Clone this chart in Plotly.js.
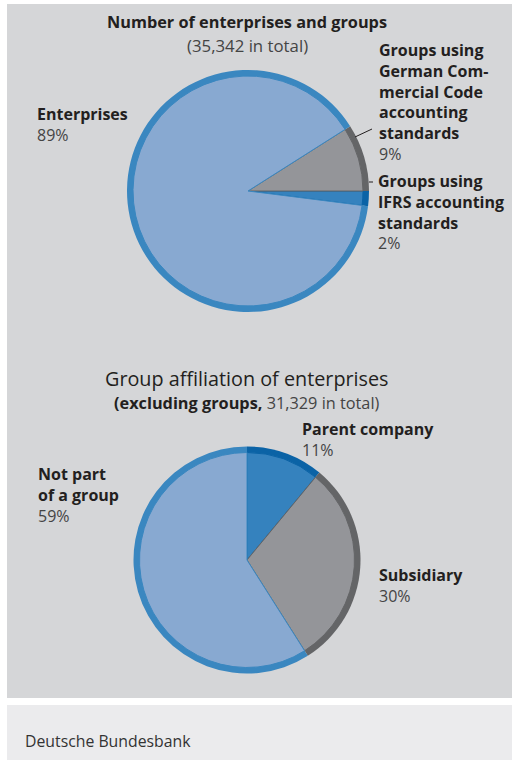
<!DOCTYPE html>
<html>
<head>
<meta charset="utf-8">
<script src="https://cdn.plot.ly/plotly-3.0.1.min.js"></script>
<style>html,body{margin:0;padding:0;background:#fff;}#chart{width:512px;height:760px;}</style>
</head>
<body>
<div id="chart"></div>
<script>
// ---- data ----
const topTitle = 'Number of enterprises and groups';
const topSubtitle = '(35,342 in total)';
const topCategories = ['Groups using IFRS accounting standards', 'Groups using German Commercial Code accounting standards', 'Enterprises'];
const topLabelText = ['Groups using<br>IFRS accounting<br>standards', 'Groups using<br>German Com-<br>mercial Code<br>accounting<br>standards', 'Enterprises'];
const topValues = [2, 9, 89];

const bottomTitle = 'Group affiliation of enterprises';
const bottomSubtitleBold = '(excluding groups,';
const bottomSubtitleRest = '31,329 in total)';
const bottomCategories = ['Parent company', 'Subsidiary', 'Not part of a group'];
const bottomLabelText = ['Parent company', 'Subsidiary', 'Not part<br>of a group'];
const bottomValues = [11, 30, 59];

const sourceText = 'Deutsche Bundesbank';

// ---- styles ----
const W = 512, H = 760;
const FONT = 'Open Sans, Noto Sans, sans-serif';
const topFill = ['#3582be', '#949599', '#88a9d1'];
const topRing = ['#0b63a6', '#646567', '#3a87c0'];
const botFill = ['#3582be', '#949599', '#88a9d1'];
const botRing = ['#0b63a6', '#646567', '#3a87c0'];
const DARK = '#231f20', MID = '#444444';

const px = x => x / W;
const py = y => 1 - y / H;

function pieDomain(cx, cy, r) {
  return {x: [px(cx - r), px(cx + r)], y: [py(cy + r), py(cy - r)]};
}

function pieTraces(labels, values, fills, rings, cx, cy, r, ring, rotation, direction) {
  const common = {type: 'pie', labels: labels, values: values, sort: false,
    rotation: rotation, direction: direction, textinfo: 'none', hoverinfo: 'skip',
    showlegend: false};
  return [
    Object.assign({}, common, {domain: pieDomain(cx, cy, r),
      marker: {colors: rings, line: {width: 0}}}),
    Object.assign({}, common, {domain: pieDomain(cx, cy, r - ring),
      marker: {colors: fills, line: {width: 1, color: rings}}})
  ];
}

const data = []
  .concat(pieTraces(topCategories, topValues, topFill, topRing, 248, 191, 121, 6, 90, 'counterclockwise'))
  .concat(pieTraces(bottomCategories, bottomValues, botFill, botRing, 247, 560, 113.5, 6, 0, 'clockwise'));

const LBL = 16;
const semi = t => '<b>' + t + '</b>';
function label(text, value, x, yFirstCenter) {
  const lines = text.split('<br>').map(semi).join('<br>');
  return {xref: 'paper', yref: 'paper', x: px(x), y: py(yFirstCenter - LBL * 1.3 / 2 - 1),
    xanchor: 'left', yanchor: 'top', align: 'left', showarrow: false,
    font: {family: FONT, size: LBL, color: DARK},
    text: lines + '<br><span style="color:' + MID + '">' + value + '%</span>'};
}

const annotations = [
  {xref: 'paper', yref: 'paper', x: px(247), y: py(22), xanchor: 'center', yanchor: 'middle', showarrow: false,
   font: {family: FONT, size: 16.3, color: DARK}, text: semi(topTitle)},
  {xref: 'paper', yref: 'paper', x: px(247), y: py(45), xanchor: 'center', yanchor: 'middle', showarrow: false,
   font: {family: FONT, size: 16.8, color: MID}, text: topSubtitle},
  label(topLabelText[1], topValues[1], 377, 48.5),
  label(topLabelText[0], topValues[0], 376, 179.5),
  label(topLabelText[2], topValues[2], 35, 112),
  {xref: 'paper', yref: 'paper', x: px(247), y: py(378), xanchor: 'center', yanchor: 'middle', showarrow: false,
   font: {family: FONT, size: 19.8, color: DARK}, text: bottomTitle},
  {xref: 'paper', yref: 'paper', x: px(247), y: py(403), xanchor: 'center', yanchor: 'middle', showarrow: false,
   font: {family: FONT, size: 16.3, color: DARK},
   text: semi(bottomSubtitleBold) + ' <span style="color:' + MID + '">' + bottomSubtitleRest + '</span>'},
  label(bottomLabelText[0], bottomValues[0], 300, 427),
  label(bottomLabelText[1], bottomValues[1], 377, 573),
  label(bottomLabelText[2], bottomValues[2], 36, 472),
  {xref: 'paper', yref: 'paper', x: px(23), y: py(741), xanchor: 'left', yanchor: 'middle', showarrow: false,
   font: {family: FONT, size: 15.8, color: '#333333'}, text: sourceText}
];

const shapes = [
  {type: 'rect', xref: 'paper', yref: 'paper', x0: px(7), x1: px(512), y0: py(698), y1: py(4),
   fillcolor: '#d5d6d8', line: {width: 0}, layer: 'below'},
  {type: 'rect', xref: 'paper', yref: 'paper', x0: px(7), x1: px(512), y0: py(760), y1: py(705),
   fillcolor: '#ebebed', line: {width: 0}, layer: 'below'},
  {type: 'line', xref: 'paper', yref: 'paper', x0: px(355), y0: py(137), x1: px(372), y1: py(129),
   line: {color: DARK, width: 1}},
  {type: 'line', xref: 'paper', yref: 'paper', x0: px(369), y0: py(182), x1: px(373), y1: py(182),
   line: {color: DARK, width: 1}}
];

const layout = {width: W, height: H, margin: {l: 0, r: 0, t: 0, b: 0},
  paper_bgcolor: '#ffffff', plot_bgcolor: '#ffffff', showlegend: false,
  font: {family: FONT}, annotations: annotations, shapes: shapes};

Plotly.newPlot('chart', data, layout, {staticPlot: true, displayModeBar: false});
</script>
</body>
</html>
